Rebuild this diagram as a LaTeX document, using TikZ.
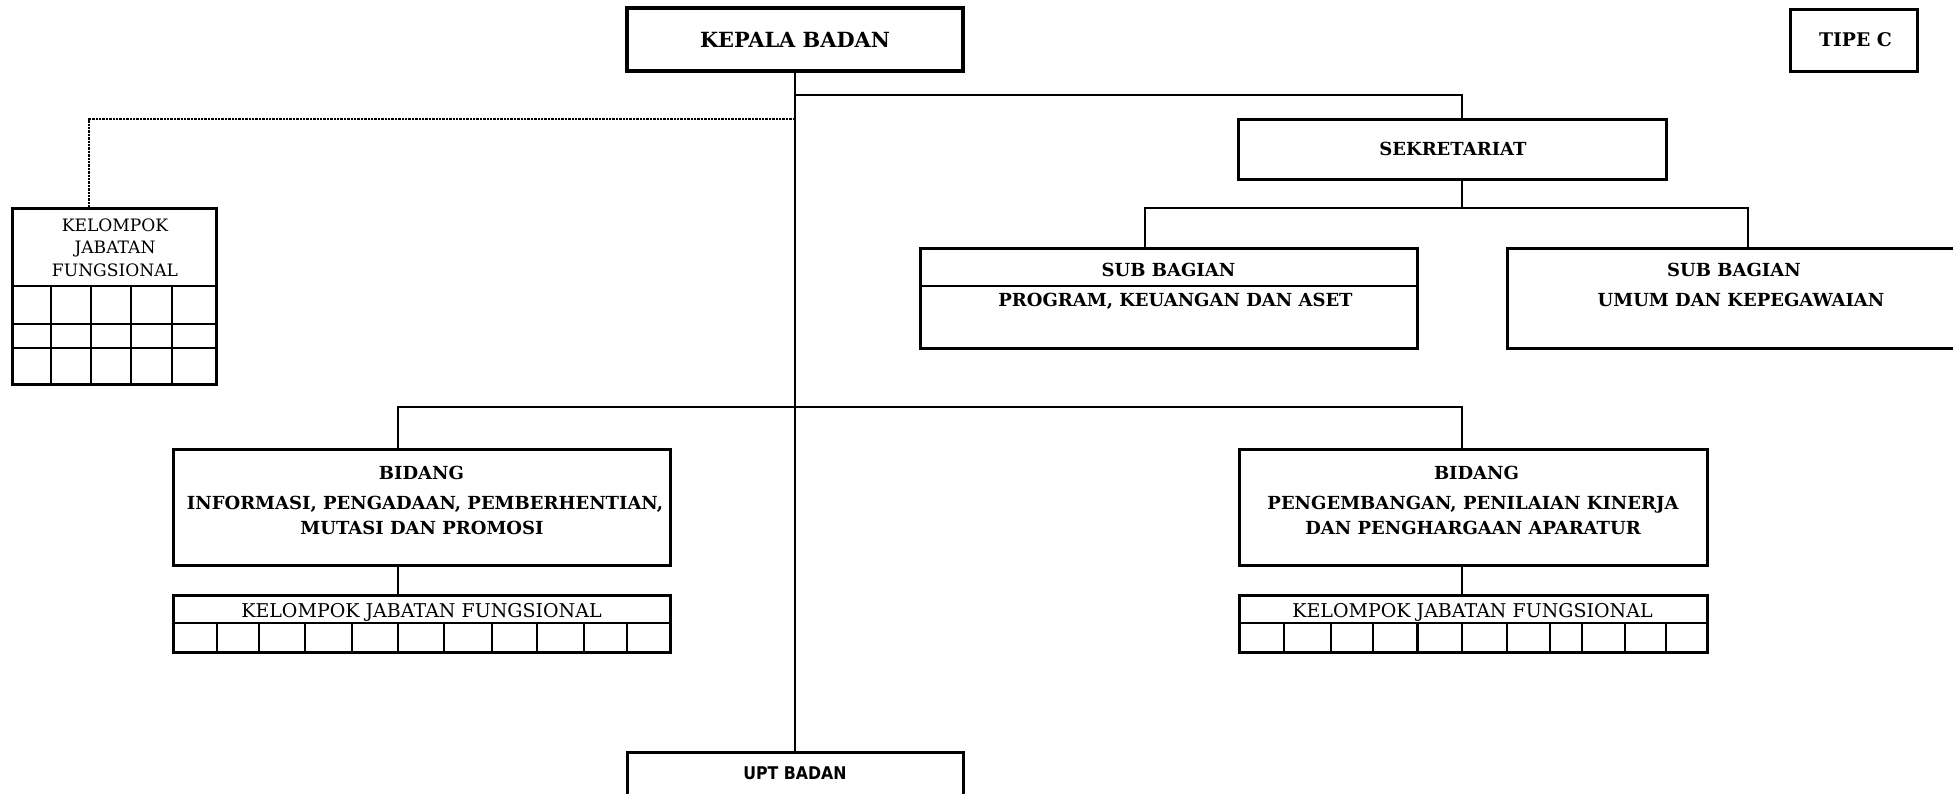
\documentclass[tikz,border=0pt]{standalone}
\usepackage{fontspec}
\setmainfont{DejaVu Serif}
\newfontfamily\uptfont{DejaVu Sans Condensed}
\begin{document}
\begin{tikzpicture}[x=1pt,y=-1pt,
  box/.style={draw, line width=3pt, inner sep=0pt, rectangle},
  conn/.style={line width=2.8pt},
  grid/.style={line width=2.7pt},
  dotline/.style={line width=2.8pt, dash pattern=on 2.4pt off 1pt},
  bt/.style={font=\bfseries\fontsize{18}{20}\selectfont, inner sep=0pt, text height=13.1pt, text depth=0pt},
  bigt/.style={font=\bfseries\fontsize{20.9}{22}\selectfont, inner sep=0pt, text height=15.2pt, text depth=0pt},
  rt/.style={font=\fontsize{19}{20}\selectfont, inner sep=0pt, text height=13.9pt, text depth=0pt},
  rts/.style={font=\fontsize{17.1}{19}\selectfont, inner sep=0pt, text height=12.5pt, text depth=0pt},
  ut/.style={font=\uptfont\bfseries\fontsize{17.5}{19}\selectfont, inner sep=0pt, text height=12.8pt, text depth=0pt}]
\useasboundingbox (0,0) rectangle (1953,793);
\clip (0,0) rectangle (1953,793);

% boxes
\node[box, line width=3.4pt, minimum width=336pt, minimum height=63pt] (kepala) at (795,39.5) {};
\node[box, minimum width=127pt, minimum height=62pt] (tipe) at (1853.5,40) {};
\node[box, minimum width=428pt, minimum height=60pt] (sek) at (1452,149) {};
\node[box, minimum width=497.5pt, minimum height=100pt] (sub1) at (1168.75,298) {};
\node[box, minimum width=460pt, minimum height=100pt] (sub2) at (1737.5,298) {};
\node[box, minimum width=204pt, minimum height=176pt] (kjf0) at (114,296) {};
\node[box, minimum width=497pt, minimum height=116pt] (bid1) at (421.5,507) {};
\node[box, minimum width=497pt, minimum height=57pt] (kjf1) at (421.5,623.5) {};
\node[box, minimum width=468pt, minimum height=116pt] (bid2) at (1473,507) {};
\node[box, minimum width=468pt, minimum height=57pt] (kjf2) at (1473,623.5) {};
\node[box, minimum width=336pt, minimum height=78pt] (upt) at (795,791) {};

% texts
\node[bigt] (tkepala) at (795,40) {KEPALA BADAN};
\node[bt, font=\bfseries\fontsize{18.8}{20}\selectfont, text height=13.7pt] (ttipe) at (1855.5,40) {TIPE C};
\node[bt] (tsek) at (1453,149) {SEKRETARIAT};
\node[bt] (tsub1a) at (1168.5,270) {SUB BAGIAN};
\node[bt] (tsub1b) at (1175.5,300) {PROGRAM, KEUANGAN DAN ASET};
\node[bt] (tsub2a) at (1734,270) {SUB BAGIAN};
\node[bt] (tsub2b) at (1741,300) {UMUM DAN KEPEGAWAIAN};
\node[rts] (tk0a) at (115,225) {KELOMPOK};
\node[rts] (tk0b) at (115,247.5) {JABATAN};
\node[rts] (tk0c) at (115,270) {FUNGSIONAL};
\node[bt] (tb1a) at (421.5,473) {BIDANG};
\node[bt] (tb1b) at (425,503) {INFORMASI, PENGADAAN, PEMBERHENTIAN,};
\node[bt] (tb1c) at (422,528) {MUTASI DAN PROMOSI};
\node[bt] (tb2a) at (1476.5,473) {BIDANG};
\node[bt] (tb2b) at (1473,503) {PENGEMBANGAN, PENILAIAN KINERJA};
\node[bt] (tb2c) at (1473,528) {DAN PENGHARGAAN APARATUR};
\node[rt] (tk1) at (421.5,610.5) {KELOMPOK JABATAN FUNGSIONAL};
\node[rt] (tk2) at (1472.5,610.5) {KELOMPOK JABATAN FUNGSIONAL};
\node[ut] (tupt) at (795,773) {UPT BADAN};

% branch coordinates
\coordinate (jtop) at (795,95);
\coordinate (secx) at (1462,95);
\coordinate (jsub) at (1462,208);
\coordinate (b1) at (1145,208);
\coordinate (b2) at (1748,208);
\coordinate (jdot) at (795,119);
\coordinate (dx) at (89,119);
\coordinate (bl) at (398,407);
\coordinate (br) at (1462,407);

% connectors
\draw[conn] (kepala.south) -- (upt.north);
\draw[conn] (jtop) -- (secx) -- (sek.north -| secx);
\draw[conn] (sek.south -| secx) -- (jsub);
\draw[conn] (sub1.north -| b1) -- (b1) -- (b2) -- (sub2.north -| b2);
\draw[dotline] (jdot) -- (dx) -- (kjf0.north -| dx);
\draw[conn] (bid1.north -| bl) -- (bl) -- (br) -- (bid2.north -| br);
\draw[conn] (bid1.south -| bl) -- (kjf1.north -| bl);
\draw[conn] (bid2.south -| br) -- (kjf2.north -| br);

% inner lines
\draw[grid] (sub1.west |- 0,286) -- (sub1.east |- 0,286);
\foreach \yy in {286,324,348} \draw[grid] (kjf0.west |- 0,\yy) -- (kjf0.east |- 0,\yy);
\foreach \xx in {51,91,131,172} \draw[grid] (\xx,286) -- (\xx,384);
\draw[grid] (kjf1.west |- 0,623) -- (kjf1.east |- 0,623);
\foreach \xx in {217,259,305,352,398,444,492,537,584,627} \draw[grid] (\xx,623) -- (\xx,652);
\draw[grid] (kjf2.west |- 0,623) -- (kjf2.east |- 0,623);
\foreach \xx in {1284,1331,1373,1417.5,1462,1507,1550,1582,1625,1666} \draw[grid] (\xx,623) -- (\xx,652);
\end{tikzpicture}
\end{document}
